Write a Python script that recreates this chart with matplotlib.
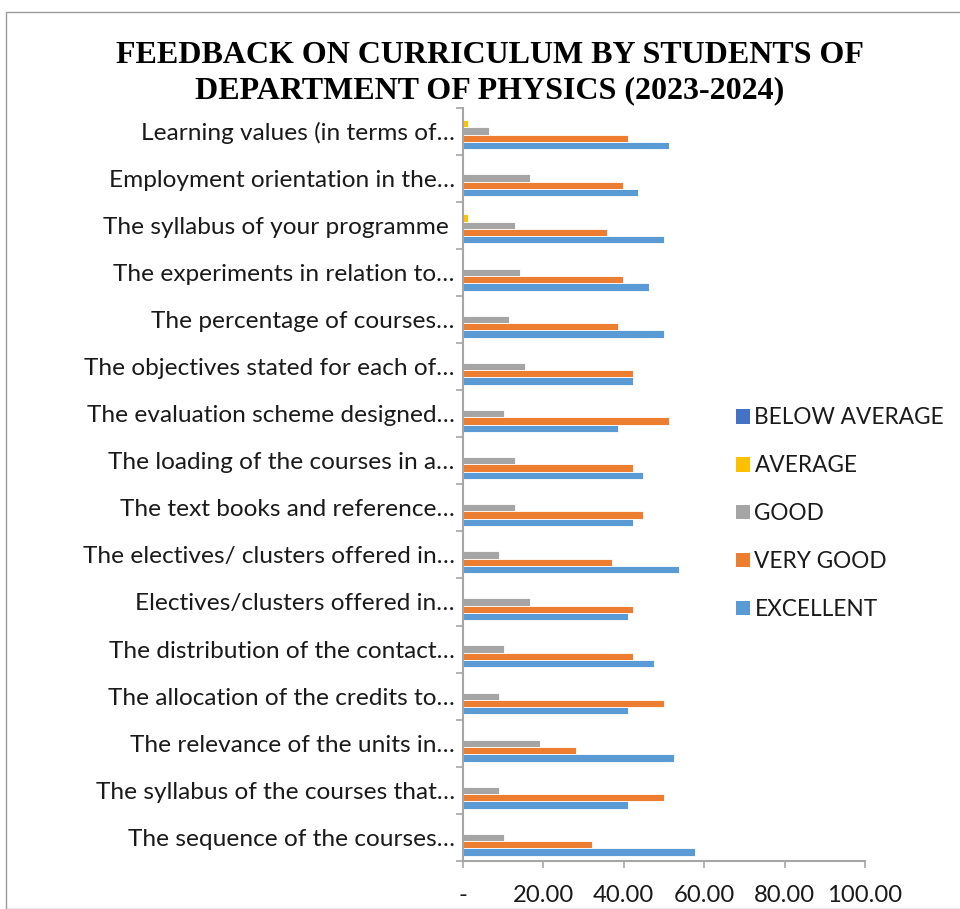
import matplotlib
matplotlib.use("Agg")
import matplotlib.pyplot as plt
import numpy as np
from matplotlib.patches import Rectangle, Patch
from matplotlib.ticker import FuncFormatter, FixedLocator

categories = [
    "Learning values (in terms of…",
    "Employment orientation in the…",
    "The syllabus of your programme ",
    "The experiments in relation to…",
    "The percentage of courses…",
    "The objectives stated for each of…",
    "The evaluation scheme designed…",
    "The loading of the courses in a…",
    "The text books and reference…",
    "The electives/ clusters offered in…",
    "Electives/clusters offered in…",
    "The distribution of the contact…",
    "The allocation of the credits to…",
    "The relevance of the units in…",
    "The syllabus of the courses that…",
    "The sequence of the courses…",
]
below_average = [0, 0, 0, 0, 0, 0, 0, 0, 0, 0, 0, 0, 0, 0, 0, 0]
average = [1.28, 0, 1.28, 0, 0, 0, 0, 0, 0, 0, 0, 0, 0, 0, 0, 0]
good = [6.41, 16.67, 12.82, 14.10, 11.54, 15.38, 10.26, 12.82, 12.82, 8.97, 16.67, 10.26, 8.97, 19.23, 8.97, 10.26]
very_good = [41.03, 39.74, 35.90, 39.74, 38.46, 42.31, 51.28, 42.31, 44.87, 37.18, 42.31, 42.31, 50.00, 28.21, 50.00, 32.05]
excellent = [51.28, 43.59, 50.00, 46.15, 50.00, 42.31, 38.46, 44.87, 42.31, 53.85, 41.03, 47.44, 41.03, 52.56, 41.03, 57.69]

series_names = ["BELOW AVERAGE", "AVERAGE", "GOOD", "VERY GOOD", "EXCELLENT"]
series_vals = [below_average, average, good, very_good, excellent]
colors = ["#4472C4", "#FFC000", "#A5A5A5", "#ED7D31", "#5B9BD5"]

W, H = 960, 909
fig = plt.figure(figsize=(W / 100, H / 100), dpi=100)
ax = fig.add_axes([463 / W, 1 - 861 / H, (865 - 463) / W, (861 - 107.5) / H])

n = len(categories)
ypos = np.arange(n)[::-1]  # top category at highest y
h = 0.155
offsets = [2 * h, h, 0, -h, -2 * h]
for name, vals, col, off in zip(series_names, series_vals, colors, offsets):
    ax.barh(ypos + off, vals, height=h, color=col, edgecolor="white", linewidth=0.6, label=name)

ax.set_xlim(0, 100)
ax.set_ylim(-0.5, n - 0.5)
ax.set_xticks([0, 20, 40, 60, 80, 100])
ax.xaxis.set_major_formatter(FuncFormatter(lambda v, p: "-" if v == 0 else f"{v:.2f}"))

ax.set_yticks(ypos)
ax.set_yticklabels(categories)
ax.yaxis.set_minor_locator(FixedLocator(np.arange(-0.5, n, 1.0)))
ax.tick_params(axis="y", which="major", length=0, pad=6, labelsize=17.6)
ax.tick_params(axis="y", which="minor", length=5, color="#a6a6a6", width=1.2)
ax.tick_params(axis="x", which="major", length=5, color="#a6a6a6", width=1.2, labelsize=17.2, pad=12)

for s in ["top", "right"]:
    ax.spines[s].set_visible(False)
for s in ["left", "bottom"]:
    ax.spines[s].set_color("#a6a6a6")
    ax.spines[s].set_linewidth(1.5)

for lab in ax.get_yticklabels() + ax.get_xticklabels():
    lab.set_fontfamily("Lato")
    lab.set_color("#1a1a1a")

# outer chart border
fig.patches.append(Rectangle((6 / W, 0), 1.0, 1 - 12 / H, transform=fig.transFigure,
                             fill=False, edgecolor="#9a9a9a", linewidth=1.0))

fig.text(490 / W, 1 - 73 / H, "FEEDBACK ON CURRICULUM BY STUDENTS OF\nDEPARTMENT OF PHYSICS (2023-2024)",
         ha="center", va="center", fontsize=23, fontweight="bold",
         family="Liberation Serif", linespacing=1.28)

handles = [Patch(facecolor=c, edgecolor="none") for c in colors]
fig.legend(handles, series_names, loc="upper left", bbox_to_anchor=(716 / W, 1 - 387 / H),
           frameon=False, handlelength=0.6, handleheight=0.6, handletextpad=0.2,
           labelspacing=1.19, prop={"family": "Lato", "size": 16.3}, labelcolor="#1a1a1a")

fig.savefig("out.png", dpi=100)
